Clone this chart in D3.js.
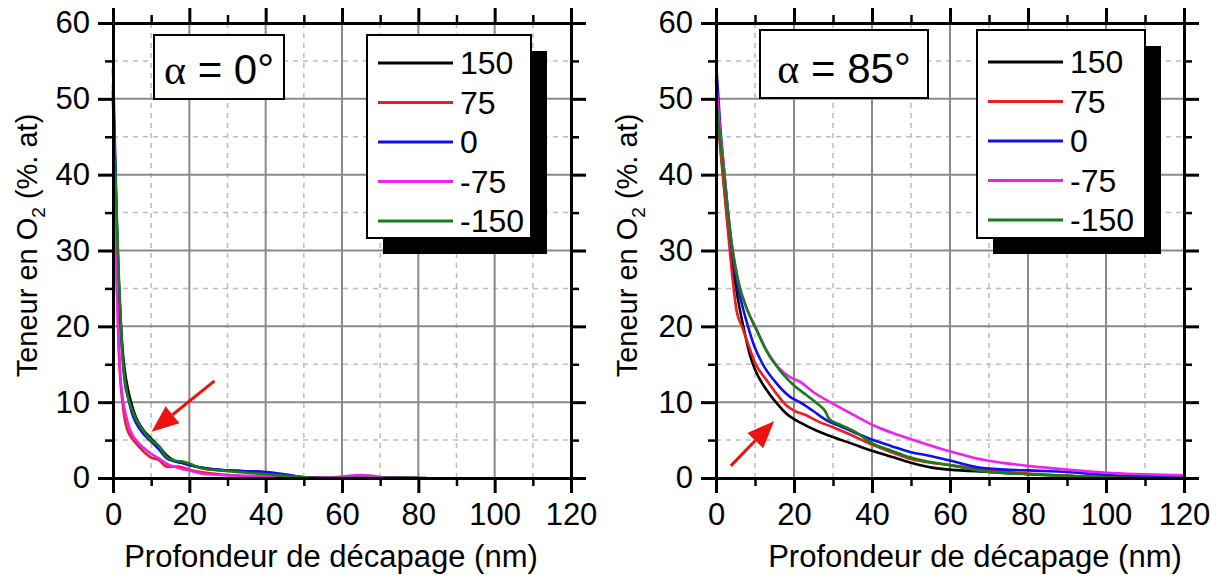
<!DOCTYPE html>
<html>
<head>
<meta charset="utf-8">
<script src="https://cdn.jsdelivr.net/npm/d3@7"></script>
<style>
  body { margin: 0; background: #fff; }
  svg { font-family: "Liberation Sans", Arial, sans-serif; }
</style>
</head>
<body>
<svg id="chart" width="1220" height="579"></svg>
<script>
// axis ticks
const xMajor = [0, 20, 40, 60, 80, 100, 120];
const xMinor = [10, 30, 50, 70, 90, 110];
const yMajor = [0, 10, 20, 30, 40, 50, 60];
const yMinor = [5, 15, 25, 35, 45, 55];

// legend (bias voltage)
const seriesNames = ["150", "75", "0", "-75", "-150"];
const seriesColors = ["#000000", "#ee1c1c", "#1010ee", "#ee22ee", "#177d17"];

// alpha = 0°  [depth nm, O2 at.%]
const left150 = [[0,51],[0.5,42],[1,33],[1.5,26],[2,21],[2.5,17],[3,14.5],[4,11.5],[5,9.5],[6,8],[8,6.3],[10,5.2],[12,4.2],[14,3],[16,2.3],[18,2],[20,1.7],[25,1.2],[30,1],[35,0.9],[40,0.7],[45,0.4],[50,0.1],[60,0],[70,0.05],[80,0]];
const left75 = [[0,50],[0.5,38],[1,26],[1.5,17],[2,12.4],[2.5,10],[3,8],[3.5,6.8],[5,5.2],[6,4.6],[8,3.5],[10,2.7],[12,2.4],[13,1.9],[14,1.5],[17,1.5],[20,1.1],[23,0.8],[28,0.5],[33,0.3],[38,0.1],[45,0],[60,0],[70,0],[82,0]];
const left0 = [[0,54],[0.5,44],[1,34],[1.5,26],[2,20],[2.5,16],[3,13],[4,10.5],[5,8.5],[6,7.3],[8,5.8],[10,4.8],[12,3.8],[14,2.6],[16,2.2],[18,2],[20,1.7],[25,1.2],[30,1],[35,0.9],[40,0.8],[45,0.5],[50,0.1],[55,0],[60,0.1],[65,0],[80,0]];
const leftM75 = [[0,52],[0.5,36],[1,25],[1.5,18],[2,13],[2.6,10.3],[3.5,8],[4.5,6.3],[6,5],[8,4],[10,3.2],[12,2.6],[14,1.9],[16,1.5],[18,1.2],[20,1],[23,0.6],[28,0.4],[35,0.3],[40,0.2],[50,0],[55,0.05],[60,0.2],[65,0.4],[68,0.3],[72,0],[80,0]];
const leftM150 = [[0,50],[0.5,42],[1,34],[1.5,27],[2,21],[2.5,16],[3,13.5],[4,10.5],[5,9],[6,7.8],[8,6.2],[10,5],[12,4.2],[14,2.8],[16,2.3],[18,2.2],[20,1.9],[23,1.3],[28,1],[35,0.7],[40,0.5],[45,0.3],[50,0.1],[55,0],[70,0],[82,0]];

// alpha = 85°
const right150 = [[0,50],[1,44.5],[2,39],[3,33.5],[4,29],[5,25.5],[6,22.5],[7,20],[8.7,16.2],[10,14.3],[13,11.6],[16,9.6],[18,8.5],[22,7.2],[26,6.2],[30,5.4],[35,4.5],[40,3.6],[45,2.8],[50,2],[55,1.4],[60,1.1],[70,0.8],[80,0.5],[90,0.3],[100,0.1],[120,0]];
const right75 = [[0,50],[1,44],[2,38.5],[3,33],[4,27.5],[5.3,22],[6.8,19.8],[8.7,17],[10,15.2],[13,12.9],[16,10.8],[18,9.6],[20,8.9],[23,8.3],[26,7.5],[30,6.7],[35,5.6],[40,4.4],[45,3.4],[50,2.5],[55,2],[60,1.7],[70,1],[80,0.6],[90,0.3],[100,0.1],[120,0]];
const right0 = [[0,55],[1,47],[2,41],[3,35.5],[4,30.5],[5,27],[6.15,24],[8.2,20],[9.6,17.7],[12,15],[15,12.8],[19,10.7],[21.5,10],[25,8.8],[28.4,7.6],[32,6.8],[36,5.9],[40.3,5],[45,4.2],[50,3.4],[55,2.9],[57.4,2.6],[60,2.3],[68.5,1.3],[80,1],[90,0.8],[100,0.4],[110,0.25],[120,0.15]];
const rightM75 = [[0,52.5],[1,46],[2,41],[3,35.5],[4,31],[5,27.8],[6,25.3],[8,22.2],[10.4,19.6],[13,16.8],[16,14.6],[19,13.3],[21.5,12.7],[25,11.3],[30,9.8],[35,8.4],[41.2,6.75],[46,5.8],[50.6,5],[57.4,3.9],[63,3.1],[68.5,2.4],[75,1.9],[80,1.6],[90,1.1],[100,0.7],[110,0.5],[120,0.35]];
const rightM150 = [[0,50],[1,45],[2,40.5],[3,35.5],[4,31],[5,27.8],[6,25.3],[8,22.2],[10.4,19.5],[13,16.7],[17,13.8],[20,12.2],[23,11],[26,9.8],[28,8.8],[29,7.8],[32,7],[36,6],[40,4.6],[45,3.6],[50,2.7],[55,2.1],[60,1.7],[65,1.2],[70,0.8],[80,0.5],[90,0.3],[100,0.1],[110,0],[120,0]];

// red arrows [from, to] in data units
const leftArrow = [[26.6, 12.8], [10.1, 6.1]];
const rightArrow = [[3.8, 1.6], [14.9, 7.5]];

const svg = d3.select("#chart");

const panels = [
    { x0: 113, x1: 571, y0: 23, y1: 478, alpha: "0°", series: [left150, left75, left0, leftM75, leftM150],
      arrow: leftArrow, box: [154, 35, 130, 64], legend: [367, 35, 164, 203, 28], titleX: 331, yTitleX: 37 },
    { x0: 716, x1: 1184, y0: 23, y1: 478, alpha: "85°", series: [right150, right75, right0, rightM75, rightM150],
      arrow: rightArrow, box: [760, 30, 168, 68], legend: [977, 30, 168, 208, 32], titleX: 975, yTitleX: 637 }
];

panels.forEach(p => {
    const x = d3.scaleLinear().domain([0, 120]).range([p.x0, p.x1]);
    const y = d3.scaleLinear().domain([0, 60]).range([p.y1, p.y0]);
    const g = svg.append("g");

    // grid
    g.selectAll(".gxm").data(xMinor).enter().append("line")
        .attr("x1", d => x(d)).attr("x2", d => x(d)).attr("y1", p.y0).attr("y2", p.y1)
        .attr("stroke", "#bdbdbd").attr("stroke-width", 1.5).attr("stroke-dasharray", "5,5");
    g.selectAll(".gym").data(yMinor).enter().append("line")
        .attr("y1", d => y(d)).attr("y2", d => y(d)).attr("x1", p.x0).attr("x2", p.x1)
        .attr("stroke", "#bdbdbd").attr("stroke-width", 1.5).attr("stroke-dasharray", "5,5");
    g.selectAll(".gx").data(xMajor.slice(1, -1)).enter().append("line")
        .attr("x1", d => x(d)).attr("x2", d => x(d)).attr("y1", p.y0).attr("y2", p.y1)
        .attr("stroke", "#8a8a8a").attr("stroke-width", 2);
    g.selectAll(".gy").data(yMajor.slice(1, -1)).enter().append("line")
        .attr("y1", d => y(d)).attr("y2", d => y(d)).attr("x1", p.x0).attr("x2", p.x1)
        .attr("stroke", "#8a8a8a").attr("stroke-width", 2);

    // curves
    const line = d3.line().x(d => x(d[0])).y(d => y(d[1])).curve(d3.curveMonotoneX);
    p.series.forEach((s, i) => {
        g.append("path").datum(s)
            .attr("d", line)
            .attr("fill", "none")
            .attr("stroke", seriesColors[i])
            .attr("stroke-width", 2.6)
            .attr("stroke-linejoin", "round");
    });

    // axes: major and minor ticks on all four sides
    const axes = [
        [d3.axisBottom(x), `translate(0,${p.y1})`, true],
        [d3.axisTop(x), `translate(0,${p.y0})`, false],
        [d3.axisLeft(y), `translate(${p.x0},0)`, true],
        [d3.axisRight(y), `translate(${p.x1},0)`, false]
    ];
    axes.forEach(([ax, tr, labels], k) => {
        const isX = k < 2;
        g.append("g").attr("transform", tr)
            .call(ax.tickValues(isX ? xMinor : yMinor).tickSize(8).tickSizeOuter(0).tickFormat(""))
            .call(a => a.select(".domain").remove())
            .call(a => a.selectAll("line").attr("stroke", "#000").attr("stroke-width", 2.5));
        const main = g.append("g").attr("transform", tr)
            .call(ax.tickValues(isX ? xMajor : yMajor).tickSize(15).tickSizeOuter(0)
                .tickPadding(isX ? 10 : 8).tickFormat(labels ? d3.format("d") : ""));
        main.select(".domain").attr("stroke", "#000").attr("stroke-width", 3);
        main.selectAll("line").attr("stroke", "#000").attr("stroke-width", 3);
        main.selectAll("text").attr("fill", "#000").style("font-size", "31px")
            .style("font-family", "'Liberation Sans', Arial, sans-serif");
    });

    // axis titles
    g.append("text")
        .attr("x", p.titleX).attr("y", 567)
        .attr("text-anchor", "middle")
        .style("font-size", "31px")
        .text("Profondeur de décapage (nm)");
    const yt = g.append("text")
        .attr("transform", `translate(${p.yTitleX},${(p.y0 + p.y1) / 2 - 5}) rotate(-90)`)
        .attr("text-anchor", "middle")
        .style("font-size", "29px");
    yt.append("tspan").text("Teneur en O");
    yt.append("tspan").attr("dy", 8).style("font-size", "19px").text("2");
    yt.append("tspan").attr("dy", -8).text(" (%. at)");

    // alpha label
    const [bx, by, bw, bh] = p.box;
    g.append("rect").attr("x", bx).attr("y", by).attr("width", bw).attr("height", bh)
        .attr("fill", "#fff").attr("stroke", "#000").attr("stroke-width", 2);
    const at = g.append("text")
        .attr("x", bx + bw / 2).attr("y", by + bh - 15)
        .attr("text-anchor", "middle")
        .style("font-size", "42px");
    at.append("tspan").style("font-family", "'Liberation Serif', serif").text("α");
    at.append("tspan").text(" = " + p.alpha);

    // legend with drop shadow
    const [lx, ly, lw, lh, first] = p.legend;
    g.append("rect").attr("x", lx + 16).attr("y", ly + 16).attr("width", lw).attr("height", lh)
        .attr("fill", "#000");
    g.append("rect").attr("x", lx).attr("y", ly).attr("width", lw).attr("height", lh)
        .attr("fill", "#fff").attr("stroke", "#000").attr("stroke-width", 2);
    seriesNames.forEach((name, i) => {
        const ry = ly + first + i * 39.5;
        g.append("line").attr("x1", lx + 11).attr("x2", lx + 86).attr("y1", ry).attr("y2", ry)
            .attr("stroke", seriesColors[i]).attr("stroke-width", 3);
        g.append("text").attr("x", lx + 93).attr("y", ry + 11)
            .style("font-size", "32px").text(name);
    });

    // red arrow
    const [a0, a1] = p.arrow.map(d => [x(d[0]), y(d[1])]);
    const ang = Math.atan2(a1[1] - a0[1], a1[0] - a0[0]);
    const hl = 27, hw = 11;
    const bxp = a1[0] - hl * Math.cos(ang), byp = a1[1] - hl * Math.sin(ang);
    g.append("line").attr("x1", a0[0]).attr("y1", a0[1]).attr("x2", bxp).attr("y2", byp)
        .attr("stroke", "#ee1111").attr("stroke-width", 3);
    g.append("path")
        .attr("d", `M${a1[0]},${a1[1]} L${bxp + hw * Math.sin(ang)},${byp - hw * Math.cos(ang)} L${bxp - hw * Math.sin(ang)},${byp + hw * Math.cos(ang)} Z`)
        .attr("fill", "#ee1111");
});
</script>
</body>
</html>
